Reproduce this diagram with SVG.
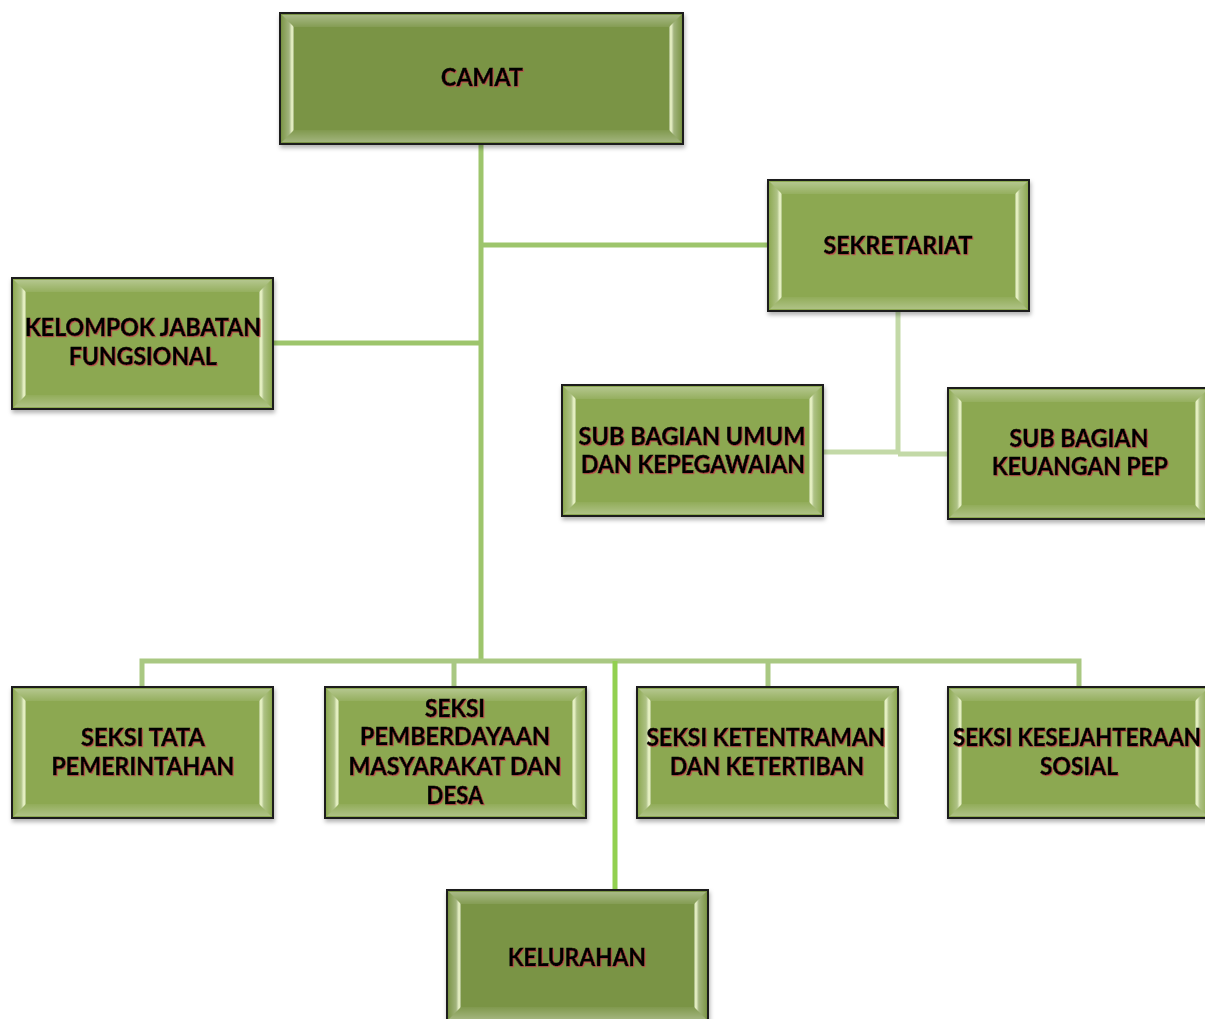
<svg xmlns="http://www.w3.org/2000/svg" xmlns:xlink="http://www.w3.org/1999/xlink" width="1205" height="1019" viewBox="0 0 1205 1019">
<style>
.t{font-family:Lato,"Open Sans","Liberation Sans",sans-serif;font-weight:bold;font-size:24px;fill:#000;stroke:#000;stroke-width:0.5;text-anchor:middle;filter:url(#ts)}
.c{fill:none;stroke-linecap:butt}
</style>
<defs>
<filter id="ts" x="-5%" y="-20%" width="110%" height="140%">
<feDropShadow dx="1" dy="1" stdDeviation="0.3" flood-color="#c0504d" flood-opacity="0.9"/>
</filter>
<filter id="bs" x="-5%" y="-5%" width="110%" height="115%">
<feDropShadow dx="1" dy="3" stdDeviation="2" flood-color="#000" flood-opacity="0.3"/>
</filter>
<linearGradient id="gl" x1="0" y1="0" x2="1" y2="0">
<stop offset="0" stop-color="#ffffff" stop-opacity="0.05"/>
<stop offset="0.6" stop-color="#ffffff" stop-opacity="0.3"/>
<stop offset="0.85" stop-color="#f6ffd0" stop-opacity="0.95"/>
<stop offset="1" stop-color="#ffffff" stop-opacity="0.2"/>
</linearGradient>
<linearGradient id="gr" x1="1" y1="0" x2="0" y2="0">
<stop offset="0" stop-color="#ffffff" stop-opacity="0.05"/>
<stop offset="0.6" stop-color="#ffffff" stop-opacity="0.3"/>
<stop offset="0.85" stop-color="#f6ffd0" stop-opacity="0.95"/>
<stop offset="1" stop-color="#ffffff" stop-opacity="0.2"/>
</linearGradient>
<linearGradient id="gt" x1="0" y1="0" x2="0" y2="1">
<stop offset="0" stop-color="#ffffff" stop-opacity="0.35"/>
<stop offset="1" stop-color="#ffffff" stop-opacity="0.08"/>
</linearGradient>
<linearGradient id="gb" x1="0" y1="1" x2="0" y2="0">
<stop offset="0" stop-color="#ffffff" stop-opacity="0.3"/>
<stop offset="1" stop-color="#ffffff" stop-opacity="0.05"/>
</linearGradient>
<g id="bevel">
<polygon points="2,2 14,14 14,117 2,129" fill="url(#gl)"/>
<polygon points="259,2 247,14 247,117 259,129" fill="url(#gr)"/>
<polygon points="2,2 259,2 247,14 14,14" fill="url(#gt)"/>
<polygon points="2,129 259,129 247,117 14,117" fill="url(#gb)"/>
</g>
<g id="boxL">
<rect x="0" y="0" width="261" height="131" fill="#8ca851" stroke="#1e1e1e" stroke-width="2" filter="url(#bs)"/>
<use xlink:href="#bevel"/>
</g>
<g id="boxD">
<rect x="0" y="0" width="261" height="131" fill="#7a9444" stroke="#1e1e1e" stroke-width="2" filter="url(#bs)"/>
<use xlink:href="#bevel"/>
</g>
</defs>
<rect width="1205" height="1019" fill="#fff"/>

<g id="connectors">
<path class="c" d="M481 144 V661 M481 245 H768 M273 343 H481" stroke="#9dc56c" stroke-width="5"/>
<path class="c" d="M898 311 V454 M823 452 H898 M898 454 H948" stroke="#c3d9a7" stroke-width="5"/>
<path class="c" d="M142 687 V661 H1079 V687 M454 661 V687 M768 661 V687" stroke="#a9c882" stroke-width="5"/>
<path class="c" d="M615 661 V890" stroke="#92d050" stroke-width="5"/>
</g>

<g id="camat">
<rect x="280" y="13" width="403" height="131" fill="#7a9444" stroke="#1e1e1e" stroke-width="2" filter="url(#bs)"/>
<polygon points="282,15 294,27 294,130 282,142" fill="url(#gl)"/>
<polygon points="681,15 669,27 669,130 681,142" fill="url(#gr)"/>
<polygon points="282,15 681,15 669,27 294,27" fill="url(#gt)"/>
<polygon points="282,142 681,142 669,130 294,130" fill="url(#gb)"/>
<text class="t" x="482" y="86" textLength="82" lengthAdjust="spacingAndGlyphs">CAMAT</text>
</g>

<g id="sekretariat">
<use xlink:href="#boxL" x="768" y="180"/>
<text class="t" x="898" y="254" textLength="149" lengthAdjust="spacingAndGlyphs">SEKRETARIAT</text>
</g>

<g id="kelompok">
<use xlink:href="#boxL" x="12" y="278"/>
<text class="t" x="143" y="336" textLength="236" lengthAdjust="spacingAndGlyphs">KELOMPOK JABATAN</text>
<text class="t" x="143" y="365" textLength="148" lengthAdjust="spacingAndGlyphs">FUNGSIONAL</text>
</g>

<g id="subumum">
<use xlink:href="#boxL" x="562" y="385"/>
<text class="t" x="692" y="445" textLength="227" lengthAdjust="spacingAndGlyphs">SUB BAGIAN UMUM</text>
<text class="t" x="693" y="473" textLength="224" lengthAdjust="spacingAndGlyphs">DAN KEPEGAWAIAN</text>
</g>

<g id="subkeuangan">
<use xlink:href="#boxL" x="948" y="388"/>
<text class="t" x="1079" y="447" textLength="139" lengthAdjust="spacingAndGlyphs">SUB BAGIAN</text>
<text class="t" x="1080" y="475" textLength="176" lengthAdjust="spacingAndGlyphs">KEUANGAN PEP</text>
</g>

<g id="seksitata">
<use xlink:href="#boxL" x="12" y="687"/>
<text class="t" x="143" y="746" textLength="124" lengthAdjust="spacingAndGlyphs">SEKSI TATA</text>
<text class="t" x="143" y="775" textLength="183" lengthAdjust="spacingAndGlyphs">PEMERINTAHAN</text>
</g>

<g id="seksipemberdayaan">
<use xlink:href="#boxL" x="325" y="687"/>
<text class="t" x="455" y="717" textLength="60" lengthAdjust="spacingAndGlyphs">SEKSI</text>
<text class="t" x="455" y="745" textLength="190" lengthAdjust="spacingAndGlyphs">PEMBERDAYAAN</text>
<text class="t" x="455" y="775" textLength="213" lengthAdjust="spacingAndGlyphs">MASYARAKAT DAN</text>
<text class="t" x="455" y="804" textLength="57" lengthAdjust="spacingAndGlyphs">DESA</text>
</g>

<g id="seksiketentraman">
<use xlink:href="#boxL" x="637" y="687"/>
<text class="t" x="766" y="746" textLength="239" lengthAdjust="spacingAndGlyphs">SEKSI KETENTRAMAN</text>
<text class="t" x="767" y="775" textLength="194" lengthAdjust="spacingAndGlyphs">DAN KETERTIBAN</text>
</g>

<g id="seksikesejahteraan">
<use xlink:href="#boxL" x="948" y="687"/>
<text class="t" x="1077" y="746" textLength="248" lengthAdjust="spacingAndGlyphs">SEKSI KESEJAHTERAAN</text>
<text class="t" x="1079" y="775" textLength="78" lengthAdjust="spacingAndGlyphs">SOSIAL</text>
</g>

<g id="kelurahan">
<use xlink:href="#boxD" x="447" y="890"/>
<text class="t" x="577" y="966" textLength="138" lengthAdjust="spacingAndGlyphs">KELURAHAN</text>
</g>
</svg>
